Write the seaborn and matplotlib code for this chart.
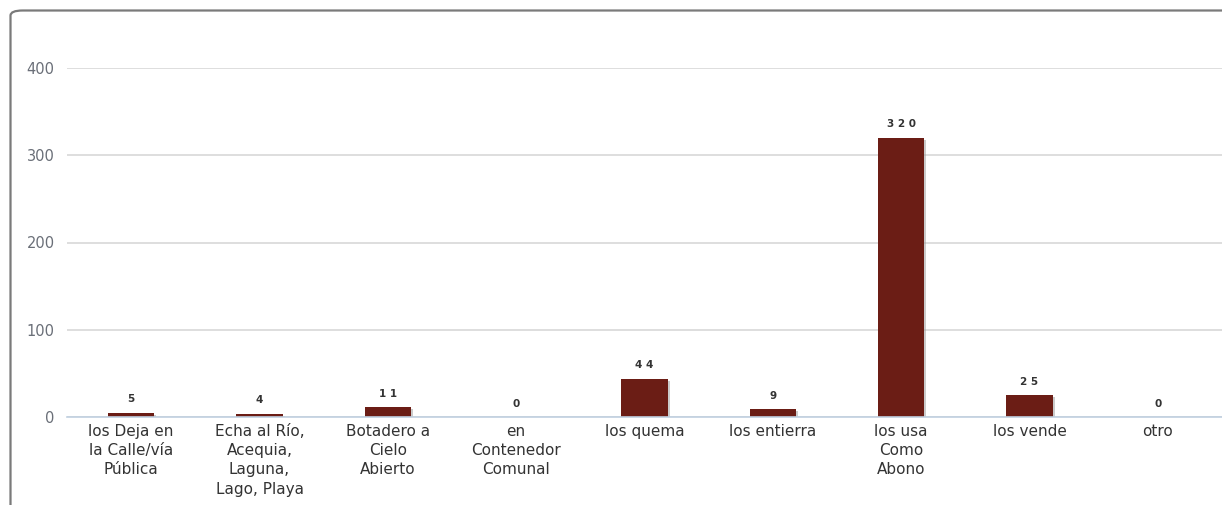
import matplotlib
matplotlib.use("Agg")
import matplotlib.pyplot as plt
import seaborn as sns
import pandas as pd
import numpy as np
from matplotlib.patches import FancyBboxPatch
from matplotlib import patheffects as pe

categories = [
    "los Deja en\nla Calle/vía\nPública",
    "Echa al Río,\nAcequia,\nLaguna,\nLago, Playa",
    "Botadero a\nCielo\nAbierto",
    "en\nContenedor\nComunal",
    "los quema",
    "los entierra",
    "los usa\nComo\nAbono",
    "los vende",
    "otro",
]
values = [5, 4, 11, 0, 44, 9, 320, 25, 0]
yticks = [0, 100, 200, 300, 400]

W, H = 1222, 505
sns.set_theme(style="white")
plt.rcParams["font.family"] = ["DejaVu Sans"]
fig = plt.figure(figsize=(W / 100, H / 100), dpi=100)
ax = fig.add_axes([67 / W, (H - 417) / H, (1222 - 67) / W, (417 - 68) / H])

df = pd.DataFrame({"cat": categories, "val": values})
sns.barplot(data=df, x="cat", y="val", ax=ax, color="#6B1D15", saturation=1,
            width=0.36, zorder=3)
for p in ax.patches:
    p.set_path_effects([pe.SimplePatchShadow(offset=(1.5, -1.5), shadow_rgbFace="#999999", alpha=0.5), pe.Normal()])
    p.set_edgecolor("none")

ax.set_xlim(-0.5, len(categories) - 0.5)
ax.set_ylim(0, 400)
ax.set_yticks(yticks)
ax.set_yticklabels([str(t) for t in yticks], color="#6A6F78", fontsize=10.5)
ax.yaxis.grid(True, color="#D8D8D8", linewidth=1.2, zorder=0)
ax.set_xlabel("")
ax.set_ylabel("")
for s in ["top", "right", "left"]:
    ax.spines[s].set_visible(False)
ax.spines["bottom"].set_color("#C0D0E0")
ax.spines["bottom"].set_linewidth(1.2)
ax.spines["bottom"].set_zorder(4)
ax.tick_params(axis="y", length=0, pad=9)
ax.tick_params(axis="x", which="major", length=0, pad=5)
ax.set_xticks(np.arange(0.5, len(categories) - 0.5), minor=True)
ax.tick_params(axis="x", which="minor", length=6, color="#C0D0E0", width=1.2, direction="out")
ax.set_xticklabels(categories, fontsize=11, color="#333333", linespacing=1.35, va="top")

for i, v in enumerate(values):
    ax.annotate(" ".join(list(str(v))) if len(str(v)) > 1 else str(v), (i, v), xytext=(0, 6),
                textcoords="offset points", ha="center", va="bottom",
                fontsize=7.5, color="#333333", fontweight="bold")

box = FancyBboxPatch((10.5 / W, -0.2), 1.2, (H - 10.5) / H + 0.2,
                     boxstyle="round,pad=0,rounding_size=0.01",
                     transform=fig.transFigure, facecolor="none",
                     edgecolor="#7A7A7A", linewidth=1.6, clip_on=False)
fig.patches.append(box)

fig.savefig("out.png", dpi=100)
